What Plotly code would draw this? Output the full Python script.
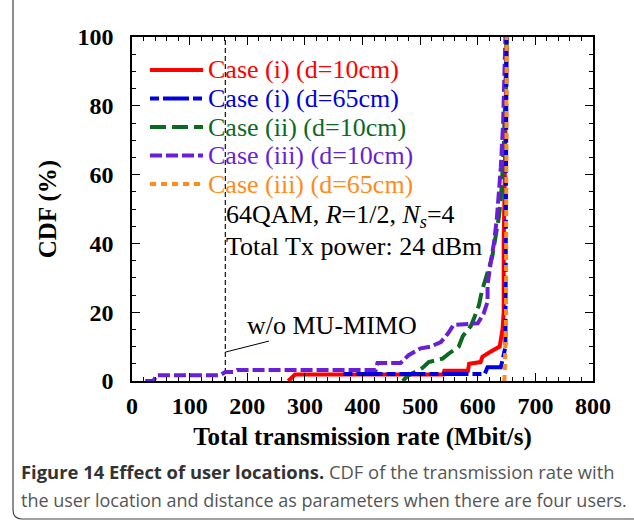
import plotly.graph_objects as go

# ---------------- data ----------------
rate_red = [271, 283, 540, 542, 583, 585, 605, 608, 622, 638, 640, 643, 645, 645, 647, 650]
cdf_red = [0, 1.9, 1.9, 3, 3, 5, 5.5, 7, 8.5, 10, 12, 15, 20, 40, 60, 100]

rate_blue = [367, 612, 617, 640, 643, 645, 648, 650]
cdf_blue = [2, 2, 4, 4, 6, 8, 10, 100]

rate_green = [470, 478, 490, 504, 515, 539, 550, 567, 574, 588, 593, 602, 607, 612, 617, 625, 631, 637, 641, 643, 645, 648, 650]
cdf_green = [0, 1.5, 2.5, 3.8, 5.5, 6.5, 8, 10, 13, 16, 18, 22, 26, 29, 32, 36, 42, 48, 55, 61, 67, 85, 100]

rate_purple = [23, 37, 43, 153, 162, 176, 183, 423, 426, 466, 480, 501, 518, 536, 548, 558, 600, 610, 617, 617, 623, 628, 633, 637, 640, 644, 646, 648]
cdf_purple = [0, 0, 1.7, 1.7, 2.6, 2.6, 3.2, 3.2, 5.2, 5.2, 7.5, 9.5, 10, 11.3, 13.7, 16.3, 16.8, 19.5, 23, 28, 35, 40, 47, 55, 62, 75, 90, 100]

rate_orange = [646, 647, 649, 650]
cdf_orange = [0, 3, 20, 100]

mimo_rate = [162, 162]
mimo_cdf = [0, 100]

labels = ["Case (i) (d=10cm)", "Case (i) (d=65cm)", "Case (ii) (d=10cm)",
          "Case (iii) (d=10cm)", "Case (iii) (d=65cm)"]
colors = ["#ff0000", "#0000e0", "#0a6b1f", "#6a1fd6", "#ff8c1a"]
dashes = ["solid", "9px,4px,26px,4px", "16px,6px", "12px,4px", "6px,5px"]

x_ticks = [0, 100, 200, 300, 400, 500, 600, 700, 800]
y_ticks = [0, 20, 40, 60, 80, 100]

# ---------------- layout helpers ----------------
W, H = 634, 522
L, R, T, B = 132, 41, 37, 141
PW, PH = W - L - R, H - T - B


def px(xp):
    return (xp - L) / PW


def py(yp):
    return (H - B - yp) / PH


SERIF = "Liberation Serif, Times New Roman, serif"

fig = go.Figure()

fig.add_trace(go.Scatter(x=mimo_rate, y=mimo_cdf, mode="lines",
                         line=dict(color="#222222", width=1.3, dash="5px,3px"),
                         showlegend=False, hoverinfo="skip"))

series = [
    (rate_red, cdf_red, 0),
    (rate_green, cdf_green, 2),
    (rate_purple, cdf_purple, 3),
    (rate_blue, cdf_blue, 1),
    (rate_orange, cdf_orange, 4),
]
for xs, ys, i in series:
    fig.add_trace(go.Scatter(
        x=xs, y=ys, mode="lines",
        line=dict(color=colors[i], width=4, dash=dashes[i]),
        name=labels[i], showlegend=False,
    ))

axis_common = dict(
    showline=True, linecolor="black", linewidth=1.5, mirror="ticks",
    ticks="inside", tickcolor="black", tickwidth=1.2, ticklen=8,
    showgrid=False, zeroline=False,
    tickfont=dict(family=SERIF, size=24, color="black"),
)

fig.update_layout(
    width=W, height=H,
    margin=dict(l=L, r=R, t=T, b=B),
    paper_bgcolor="white", plot_bgcolor="white",
    xaxis=dict(range=[0, 800], tickvals=x_ticks,
               ticktext=["<b>%d</b>" % v for v in x_ticks],
               minor=dict(dtick=20, ticks="inside", ticklen=4, tickcolor="black", tickwidth=1),
               title=dict(text="<b>Total transmission rate (Mbit/s)</b>",
                          font=dict(family=SERIF, size=25, color="black"), standoff=10),
               ticklabelstandoff=2,
               **axis_common),
    yaxis=dict(range=[0, 100], tickvals=y_ticks,
               ticktext=["<b>%d</b>" % v for v in y_ticks],
               minor=dict(dtick=5, ticks="inside", ticklen=4, tickcolor="black", tickwidth=1),
               title=dict(text="<b>CDF (%)</b>",
                          font=dict(family=SERIF, size=25, color="black"), standoff=14),
               ticklabelstandoff=12,
               **axis_common),
    showlegend=False,
)

# manual legend (tighter row spacing than plotly's built-in legend)
legend_rows = [70, 98.5, 127, 155.5, 184]
for i, yrow in enumerate(legend_rows):
    fig.add_shape(type="line", xref="paper", yref="paper",
                  x0=px(150), x1=px(203), y0=py(yrow), y1=py(yrow),
                  line=dict(color=colors[i], width=4, dash=dashes[i]))
    fig.add_annotation(xref="paper", yref="paper", x=px(206), y=py(yrow),
                       xanchor="left", yanchor="middle", showarrow=False,
                       text=labels[i], font=dict(family=SERIF, size=26, color=colors[i]))

# annotations
fig.add_annotation(xref="x", yref="y", x=162, y=8.4, ax=107, ay=-27,
                   text="w/o MU-MIMO", showarrow=True, arrowhead=0, arrowwidth=1,
                   arrowcolor="black", font=dict(family=SERIF, size=26, color="black"))
fig.add_annotation(xref="paper", yref="paper", x=px(224), y=py(216), xanchor="left",
                   yanchor="middle", showarrow=False,
                   text="64QAM, <i>R</i>=1/2, <i>N<sub>s</sub></i>=4",
                   font=dict(family=SERIF, size=26, color="black"))
fig.add_annotation(xref="paper", yref="paper", x=px(224), y=py(246), xanchor="left",
                   yanchor="middle", showarrow=False,
                   text="Total Tx power: 24 dBm",
                   font=dict(family=SERIF, size=26, color="black"))

# caption
CAP = "Open Sans, Noto Sans, sans-serif"
fig.add_annotation(xref="paper", yref="paper", x=px(19), y=py(471), xanchor="left",
                   yanchor="middle", showarrow=False,
                   text="<b><span style='color:#333333'>Figure 14 Effect of user locations.</span></b> CDF of the transmission rate with",
                   font=dict(family=CAP, size=18.4, color="#555555"))
fig.add_annotation(xref="paper", yref="paper", x=px(19), y=py(500), xanchor="left",
                   yanchor="middle", showarrow=False,
                   text="the user location and distance as parameters when there are four users.",
                   font=dict(family=CAP, size=18, color="#555555"))

# rounded frame around figure + caption
x0, x1 = px(13), px(700)
y0, y1, yc = py(-10), py(519), py(510)
xc = px(22)
fig.add_shape(type="path", xref="paper", yref="paper",
              path="M %f,%f L %f,%f Q %f,%f %f,%f L %f,%f" % (x0, y0, x0, yc, x0, y1, xc, y1, x1, y1),
              line=dict(color="#444444", width=1.2))

fig.write_html("out.html")
